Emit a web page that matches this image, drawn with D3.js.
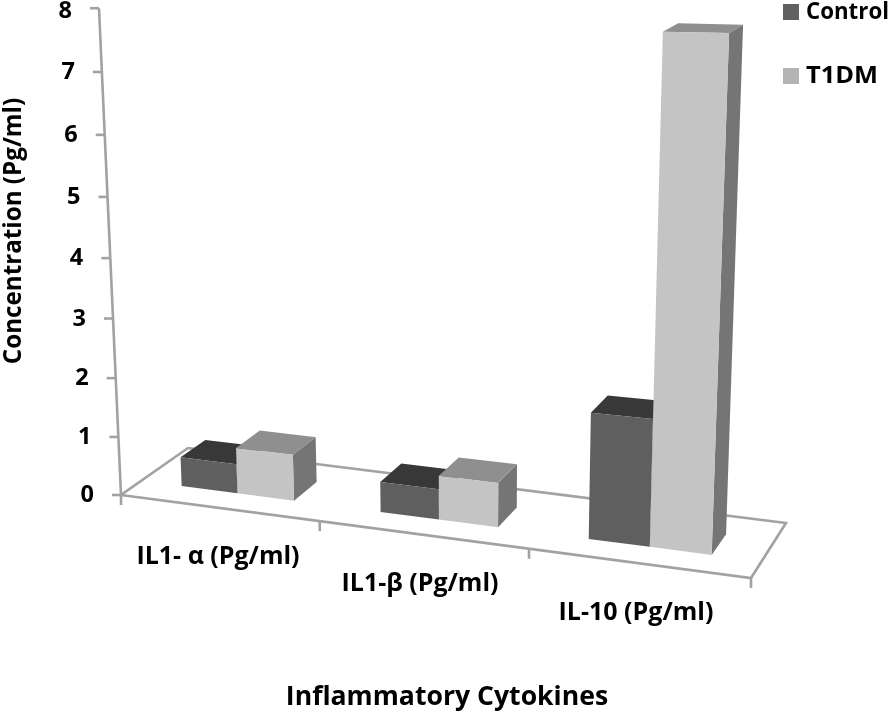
<!DOCTYPE html>
<html><head><meta charset="utf-8">
<style>html,body{margin:0;padding:0;background:#fff}svg{display:block}text{font-family:"Open Sans",Lato,sans-serif;font-weight:700;fill:#000}</style>
<script src="https://cdn.jsdelivr.net/npm/d3@7"></script>
</head><body><svg id="c" width="894" height="713"></svg>
<script>
const categories=["IL1- α (Pg/ml)","IL1-β (Pg/ml)","IL-10 (Pg/ml)"];
const seriesNames=["Control","T1DM"];
const controlValues=[0.5,0.5,2.0];
const t1dmValues=[0.78,0.72,7.75];
const valueTicks=[0,1,2,3,4,5,6,7,8];
const axisTitleX="Inflammatory Cytokines";
const axisTitleY="Concentration (Pg/ml)";

const W=894,H=713;
const svg=d3.select("#c").attr("viewBox",[0,0,W,H]);
const defs=svg.append("defs");
defs.append("filter").attr("id","soft").append("feGaussianBlur").attr("stdDeviation",0.5);
const root=svg.append("g").attr("filter","url(#soft)");

// floor plane calibration: four corners of the perspective floor
const P0=[121,495],P1=[751,578],P2=[786,523],P3=[188,448];
const sx=P0[0]-P1[0]+P2[0]-P3[0],sy=P0[1]-P1[1]+P2[1]-P3[1];
const dx1=P1[0]-P2[0],dx2=P3[0]-P2[0],dy1=P1[1]-P2[1],dy2=P3[1]-P2[1];
const den=dx1*dy2-dx2*dy1;
const G=(sx*dy2-dx2*sy)/den,Hh=(dx1*sy-sx*dy1)/den;
function floorPt(u,z){
  const w=1+G*u+Hh*z;
  return [(P0[0]+(P1[0]-P0[0]+G*P1[0])*u+(P3[0]-P0[0]+Hh*P3[0])*z)/w,
          (P0[1]+(P1[1]-P0[1]+G*P1[1])*u+(P3[1]-P0[1]+Hh*P3[1])*z)/w];
}
// value scale, with foreshortening along the vertical axis
const yT=d3.scaleLinear().domain([0,8]).range([0,1]);
function axisH(v){const t=yT(v);return P0[1]-(495-487.2*t)/(1-0.052*t);}
function proj(u,z,v){
  const f=floorPt(u,z),h=axisH(v);
  const k=1/(1-0.124*u+Hh*z);
  const lean=-0.0452+0.085*u;
  return [f[0]+h*k*lean,f[1]-h*k];
}
const xBand=d3.scaleBand().domain(categories).range([-0.002,0.996]).paddingInner(0.43).paddingOuter(0.215);
const sBand=d3.scaleBand().domain(seriesNames).range([0,xBand.bandwidth()]);
const zFront=0.29,zBack=0.67;
const colors={Control:{front:"#5e5e5e",top:"#383838",side:"#484848"},
              T1DM:{front:"#c4c4c4",top:"#8f8f8f",side:"#747474"}};
const legendColors={Control:"#606060",T1DM:"#b4b4b4"};
const legendWidths={Control:83,T1DM:72};
const pathOf=pts=>"M"+pts.map(p=>p.join(",")).join("L")+"Z";
const axisColor="#a2a2a2";

// floor outline
root.append("path").attr("d",pathOf([floorPt(0,0),floorPt(1,0),floorPt(1,1),floorPt(0,1)]))
  .attr("fill","#fff").attr("stroke",axisColor).attr("stroke-width",2.6);
// category ticks
const boundaries=[0,...categories.slice(1).map(c=>xBand(c)-xBand.step()*xBand.paddingInner()/2),1];
boundaries.forEach(u=>{
  const p=floorPt(u,0);
  root.append("line").attr("x1",p[0]).attr("y1",p[1]).attr("x2",p[0]).attr("y2",p[1]+10)
    .attr("stroke",axisColor).attr("stroke-width",2.6);
});
// value axis
const a0=proj(0,0,0),a1=proj(0,0,8);
root.append("line").attr("x1",a0[0]).attr("y1",a0[1]).attr("x2",a1[0]).attr("y2",a1[1])
  .attr("stroke",axisColor).attr("stroke-width",2.6);
valueTicks.forEach(v=>{
  const p=proj(0,0,v);
  root.append("line").attr("x1",p[0]-9).attr("y1",p[1]).attr("x2",p[0]).attr("y2",p[1])
    .attr("stroke",axisColor).attr("stroke-width",2.6);
  root.append("text").attr("x",p[0]-27).attr("y",p[1]+(v===8?3:1)).attr("text-anchor","end")
    .attr("dominant-baseline","middle").attr("font-size",23.5).text(v);
});
// bars, back to front and left to right
const seriesVals={Control:controlValues,T1DM:t1dmValues};
categories.forEach((c,i)=>{
  seriesNames.forEach(s=>{
    const v=seriesVals[s][i],col=colors[s];
    const uL=xBand(c)+sBand(s),uR=uL+sBand.bandwidth();
    const g=root.append("g");
    g.append("path").attr("d",pathOf([proj(uR,zFront,0),proj(uR,zBack,0),proj(uR,zBack,v),proj(uR,zFront,v)])).attr("fill",col.side);
    g.append("path").attr("d",pathOf([proj(uL,zFront,v),proj(uR,zFront,v),proj(uR,zBack,v),proj(uL,zBack,v)])).attr("fill",col.top);
    g.append("path").attr("d",pathOf([proj(uL,zFront,0),proj(uR,zFront,0),proj(uR,zFront,v),proj(uL,zFront,v)])).attr("fill",col.front);
  });
});
// category labels
const labelPos=[[218,557],[420,584],[636,613]];
categories.forEach((c,i)=>{
  root.append("text").attr("x",labelPos[i][0]).attr("y",labelPos[i][1]).attr("text-anchor","middle")
    .attr("dominant-baseline","middle").attr("font-size",25).text(c);
});
// titles
root.append("text").attr("x",447).attr("y",698).attr("text-anchor","middle").attr("dominant-baseline","middle")
  .attr("font-size",26.6).text(axisTitleX);
root.append("text").attr("transform","translate(15,231) rotate(-90)").attr("text-anchor","middle")
  .attr("dominant-baseline","middle").attr("font-size",24.2).text(axisTitleY);
// legend
const legendY=d3.scalePoint().domain(seriesNames).range([12,76]);
seriesNames.forEach(s=>{
  root.append("rect").attr("x",783).attr("y",legendY(s)-8).attr("width",16).attr("height",16).attr("fill",legendColors[s]);
  root.append("text").attr("x",806).attr("y",legendY(s)+1).attr("dominant-baseline","middle").attr("font-size",24)
    .attr("textLength",legendWidths[s]).attr("lengthAdjust","spacingAndGlyphs").text(s);
});
</script></body></html>
